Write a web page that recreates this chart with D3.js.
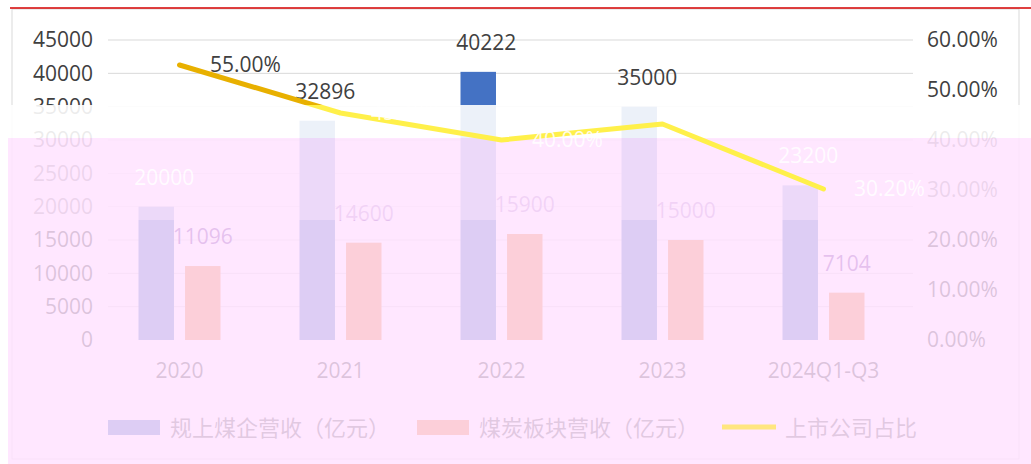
<!DOCTYPE html>
<html>
<head>
<meta charset="utf-8">
<script src="https://cdn.jsdelivr.net/npm/d3@7"></script>
<style>
  body { margin: 0; background: #fff; }
  svg { display: block; font-family: 'Open Sans', sans-serif; }
</style>
</head>
<body>
<svg></svg>
<script>
let years = ['2020', '2021', '2022', '2023', '2024Q1-Q3']
let totalRevenue = [20000, 32896, 40222, 35000, 23200]
let coalRevenue = [11096, 14600, 15900, 15000, 7104]
let listedShare = [55.00, 45.40, 40.00, 43.20, 30.20]
let leftTicks = [0, 5000, 10000, 15000, 20000, 25000, 30000, 35000, 40000, 45000]
let rightTicks = [0, 10, 20, 30, 40, 50, 60]
let seriesNames = ['规上煤企营收（亿元）', '煤炭板块营收（亿元）', '上市公司占比']

let width = 1031
let height = 464
let plotTop = 40
let plotBottom = 340
let plotLeft = 99
let plotRight = 904

let svg = d3.select('svg')
    .attr('width', width)
    .attr('height', height)

let defs = svg.append('defs')
let grad = defs.append('linearGradient')
    .attr('id', 'lineGrad')
    .attr('gradientUnits', 'userSpaceOnUse')
    .attr('x1', 0).attr('y1', 0).attr('x2', 0).attr('y2', height)
grad.append('stop').attr('offset', 105 / height).attr('stop-color', '#e8b000')
grad.append('stop').attr('offset', 105 / height).attr('stop-color', '#fff04a')

let xScale = d3.scaleBand()
    .domain(years)
    .range([plotLeft, plotRight])

let x1 = d3.scaleBand()
    .domain(['total', 'coal'])
    .range([xScale.bandwidth() / 2 - 41, xScale.bandwidth() / 2 + 41])
    .paddingInner(0.237)

let yScale = d3.scaleLinear()
    .domain([0, 45000])
    .range([plotBottom, plotTop])

let y2Scale = d3.scaleLinear()
    .domain([0, 60])
    .range([plotBottom, plotTop])

// frame
svg.append('rect')
    .attr('x', 12).attr('y', 9)
    .attr('width', 1007).attr('height', 450)
    .attr('fill', 'none')
    .attr('stroke', '#d9d9d9')
svg.append('line')
    .attr('x1', 10).attr('x2', width)
    .attr('y1', 8).attr('y2', 8)
    .attr('stroke', '#d40000')
    .attr('stroke-width', 1.5)

// gridlines
svg.append('g')
  .selectAll('line')
  .data(leftTicks.slice(1))
  .enter()
  .append('line')
    .attr('x1', 108).attr('x2', 913)
    .attr('y1', d => yScale(d)).attr('y2', d => yScale(d))
    .attr('stroke', '#d9d9d9')

let yAxis = d3.axisLeft(yScale)
    .tickValues(leftTicks)
    .tickFormat(d3.format('d'))
    .tickSize(0)
    .tickPadding(0)
svg.append('g')
    .attr('transform', 'translate(93, 0)')
    .call(yAxis)
    .call(g => g.select('.domain').remove())
    .selectAll('text')
    .attr('fill', '#404040')
    .style('font-size', '21px')
    .style('font-family', 'Open Sans')

let y2Axis = d3.axisRight(y2Scale)
    .tickValues(rightTicks)
    .tickFormat(d => d.toFixed(2) + '%')
    .tickSize(0)
    .tickPadding(0)
svg.append('g')
    .attr('transform', 'translate(927, 0)')
    .call(y2Axis)
    .call(g => g.select('.domain').remove())
    .selectAll('text')
    .attr('fill', '#404040')
    .style('font-size', '21px')
    .style('font-family', 'Open Sans')

let xAxis = d3.axisBottom(xScale)
    .tickSize(0)
    .tickPadding(0)
svg.append('g')
    .attr('transform', 'translate(0, 363)')
    .call(xAxis)
    .call(g => g.select('.domain').remove())
    .selectAll('text')
    .attr('fill', '#404040')
    .style('font-size', '21px')
    .style('font-family', 'Open Sans')

// bars
let rows = years.map((y, i) => ({ year: y, total: totalRevenue[i], coal: coalRevenue[i], share: listedShare[i] }))

svg.append('g')
  .selectAll('rect')
  .data(rows)
  .enter()
  .append('rect')
    .attr('x', d => xScale(d.year) + x1('total'))
    .attr('y', d => yScale(d.total))
    .attr('width', x1.bandwidth())
    .attr('height', d => plotBottom - yScale(d.total))
    .attr('fill', '#4472c4')

svg.append('g')
  .selectAll('rect')
  .data(rows)
  .enter()
  .append('rect')
    .attr('x', d => xScale(d.year) + x1('coal'))
    .attr('y', d => yScale(d.coal))
    .attr('width', x1.bandwidth())
    .attr('height', d => plotBottom - yScale(d.coal))
    .attr('fill', '#ed7d31')

svg.append('g')
  .selectAll('text')
  .data(rows)
  .enter()
  .append('text')
    .attr('x', d => xScale(d.year) + x1('coal') + x1.bandwidth() / 2)
    .attr('y', d => yScale(d.coal) - 22)
    .attr('text-anchor', 'middle')
    .attr('fill', '#7030a0')
    .style('font-size', '21px')
    .text(d => d.coal)

// legend
let legend = svg.append('g')
legend.append('rect')
    .attr('x', 108).attr('y', 420).attr('width', 52).attr('height', 15)
    .attr('fill', '#4472c4')
legend.append('text')
    .attr('x', 170).attr('y', 436)
    .attr('fill', '#595959')
    .style('font-family', 'Noto Sans CJK SC')
    .style('font-size', '22px')
    .text(seriesNames[0])
legend.append('rect')
    .attr('x', 417).attr('y', 420).attr('width', 52).attr('height', 15)
    .attr('fill', '#ed7d31')
legend.append('text')
    .attr('x', 479).attr('y', 436)
    .attr('fill', '#595959')
    .style('font-family', 'Noto Sans CJK SC')
    .style('font-size', '22px')
    .text(seriesNames[1])
legend.append('text')
    .attr('x', 785).attr('y', 436)
    .attr('fill', '#595959')
    .style('font-family', 'Noto Sans CJK SC')
    .style('font-size', '22px')
    .text(seriesNames[2])

// washed-out bands of the photographed picture
svg.append('rect')
    .attr('x', 0).attr('y', 105).attr('width', width).attr('height', 33)
    .attr('fill', '#ffffff').attr('opacity', 0.9)
svg.append('rect')
    .attr('x', 8).attr('y', 138).attr('width', width - 8).attr('height', 82)
    .attr('fill', '#ffe4ff').attr('opacity', 0.9)
svg.append('rect')
    .attr('x', 8).attr('y', 220).attr('width', width - 8).attr('height', 244)
    .attr('fill', '#ffe2ff').attr('opacity', 0.82)

// total labels: dark above the wash, ghost white inside it
svg.append('g')
  .selectAll('text')
  .data(rows)
  .enter()
  .append('text')
    .attr('x', d => xScale(d.year) + x1('total') + x1.bandwidth() / 2 + 8)
    .attr('y', d => yScale(d.total) - 22)
    .attr('text-anchor', 'middle')
    .attr('fill', d => yScale(d.total) - 22 < 105 ? '#404040' : '#ffffff')
    .attr('opacity', d => yScale(d.total) - 22 < 105 ? 1 : 0.85)
    .style('font-size', '21px')
    .text(d => d.total)

// line series on top
let line = d3.line()
    .x(d => xScale(d.year) + xScale.bandwidth() / 2)
    .y(d => y2Scale(d.share))

svg.append('path')
    .datum(rows)
    .attr('d', line)
    .attr('fill', 'none')
    .attr('stroke', 'url(#lineGrad)')
    .attr('stroke-width', 5)
    .attr('stroke-linecap', 'round')
    .attr('stroke-linejoin', 'round')

svg.append('g')
  .selectAll('text')
  .data(rows)
  .enter()
  .append('text')
    .attr('x', d => xScale(d.year) + xScale.bandwidth() / 2 + 66)
    .attr('y', d => y2Scale(d.share) + 7)
    .attr('text-anchor', 'middle')
    .attr('fill', (d, i) => i === 0 ? '#404040' : '#ffffff')
    .attr('opacity', (d, i) => i === 0 ? 1 : 0.85)
    .style('font-size', '21px')
    .text(d => d.share.toFixed(2) + '%')

svg.append('line')
    .attr('x1', 722).attr('x2', 776)
    .attr('y1', 427).attr('y2', 427)
    .attr('stroke', '#ffe680')
    .attr('stroke-width', 5)
</script>
</body>
</html>
